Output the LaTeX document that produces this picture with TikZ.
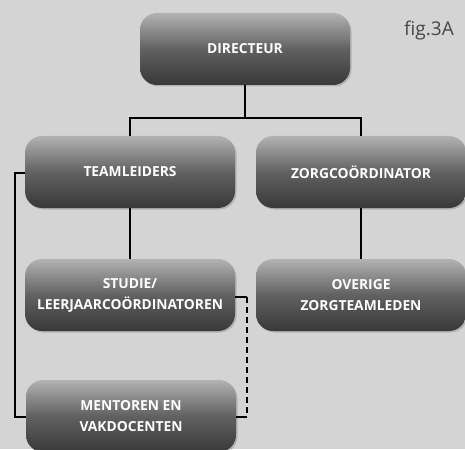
\documentclass[tikz,border=0pt]{standalone}
\usepackage{fontspec}
\setmainfont{Open Sans}
\usetikzlibrary{shadows,calc}
\definecolor{bg}{HTML}{D4D4D4}
\tikzset{
  orgbox/.style={rounded corners=17pt, minimum width=210pt, minimum height=72pt,
    top color=gray!60, bottom color=black!78, middle color=black!62,
    drop shadow={shadow xshift=1.5pt, shadow yshift=-1.5pt, opacity=0.4},
    text=white, font=\fontsize{13.8}{21}\selectfont\bfseries, align=center, inner sep=0pt},
  conn/.style={line width=1.3pt, black},
  dconn/.style={line width=1.3pt, black, dash pattern=on 6pt off 4pt}
}
\begin{document}
\begin{tikzpicture}[x=1pt,y=-1pt]
\fill[bg] (0,0) rectangle (465,449);
\useasboundingbox (0,0) rectangle (465,449);
\node[orgbox] (dir) at (245,49) {DIRECTEUR};
\node[orgbox] (team) at (130,172) {TEAMLEIDERS};
\node[orgbox] (zorg) at (361,172) {ZORGCOÖRDINATOR};
\node[orgbox] (stud) at (130,295) {STUDIE/\\LEERJAARCOÖRDINATOREN};
\node[orgbox] (over) at (361,295) {OVERIGE\\ZORGTEAMLEDEN};
\node[orgbox] (ment) at (131,416) {MENTOREN EN\\VAKDOCENTEN};
\node[text=black!72, font=\fontsize{19}{19}\selectfont, anchor=center] (fig) at (429,31) {fig.3A};
\coordinate (split) at (245,118);
\draw[conn] (dir.south) -- (split);
\draw[conn] (team.north) |- (split) -| (zorg.north);
\draw[conn] (team.south) -- (stud.north);
\draw[conn] (zorg.south) -- (over.north);
\coordinate (l1) at (15,173);
\coordinate (l2) at (15,417);
\draw[conn] (team.west |- l1) -- (l1) -- (l2) -- (ment.west |- l2);
\coordinate (r1) at (247,297);
\coordinate (r2) at (247,417);
\draw[conn] (stud.east |- r1) -- (r1);
\draw[conn] (ment.east |- r2) -- (r2);
\draw[dconn] (r1) -- (r2);
\end{tikzpicture}
\end{document}
